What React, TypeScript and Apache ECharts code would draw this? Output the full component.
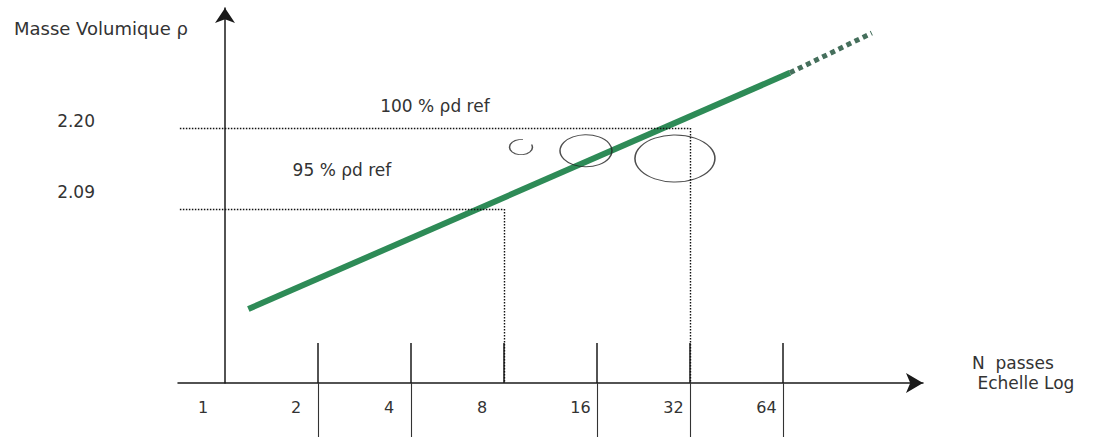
import React, { useEffect, useRef } from "react";
import * as echarts from "echarts";

// ---- data ----
const passTicks = [1, 2, 4, 8, 16, 32, 64]; // N passes, log2 scale
const refDensity = [2.2, 2.09]; // ρd values on the y axis
const refLabels = ["100 % ρd ref", "95 % ρd ref"];
const refPasses = [32, 8]; // N where the reference is reached
const trendN = [1.19, 67.4];
const trendRho = [1.954, 2.275];
const extN = [67.4, 124];
const extRho = [2.275, 2.329];
const markN = [9.08, 14.74, 28.6];
const markRho = [2.174, 2.169, 2.1586];

const X_MIN = -0.5054;
const X_MAX = 7.5054;
const Y_MIN = 1.85353;
const Y_MAX = 2.36304;
const FONT = "DejaVu Sans";
const TXT = "#333";

const lg = (n: number) => Math.log2(n);

const C_PATH =
  "path://M58.7 0.8L41.3 0.8L25 6.7L11.7 17.9L3 32.9L0 50L3 67.1L11.7 82.1L25 93.3L41.3 99.2L58.7 99.2L75 93.3L88.3 82.1L97 67.1L100 50L97 32.9";

export default function App() {
  const ref = useRef<HTMLDivElement>(null);
  useEffect(() => {
    if (!ref.current) return;
    const chart = echarts.init(ref.current, undefined, { renderer: "svg" });
    const lineStart = X_MIN + 0.02;
    const markSizes = [
      [23, 15],
      [52, 32],
      [80, 47],
    ];
    const markSymbols = [C_PATH, "circle", "circle"];
    const labelDist = [13, 30];
    const option: any = {
      animation: false,
      backgroundColor: "#fff",
      grid: { left: 178, right: 171, top: 8, bottom: 65 },
      xAxis: [
        {
          type: "value",
          position: "bottom",
          min: X_MIN,
          max: X_MAX,
          name: "N  passes\n Echelle Log\n ",
          nameLocation: "end",
          nameGap: 49,
          nameTextStyle: {
            fontFamily: FONT,
            fontSize: 17,
            color: TXT,
            align: "left",
            verticalAlign: "middle",
            lineHeight: 20,
          },
          axisLine: {
            show: true,
            onZero: false,
            symbol: ["none", "arrow"],
            symbolSize: [15, 17],
            lineStyle: { color: "#1a1a1a", width: 1.5 },
          },
          axisTick: {
            show: true,
            inside: false,
            length: 54,
            customValues: [1, 2, 4, 5, 6],
            lineStyle: { color: "#333", width: 1.1 },
          },
          axisLabel: {
            show: true,
            customValues: passTicks.map(lg),
            margin: 16,
            align: "center",
            formatter: (v: number) => {
              const s = String(Math.round(Math.pow(2, v)));
              return s.length === 1 ? `{s|${s}}` : `{d|${s}}`;
            },
            rich: {
              s: { fontFamily: FONT, fontSize: 16, color: TXT, padding: [0, 44, 0, 0] },
              d: { fontFamily: FONT, fontSize: 16, color: TXT, padding: [0, 33, 0, 0] },
            },
          },
          splitLine: { show: false },
        },
        {
          type: "value",
          position: "bottom",
          min: X_MIN,
          max: X_MAX,
          axisLine: { show: false, onZero: false },
          axisTick: {
            show: true,
            inside: true,
            length: 40,
            customValues: passTicks.slice(1).map(lg),
            lineStyle: { color: "#1a1a1a", width: 1.5 },
          },
          axisLabel: { show: false },
          splitLine: { show: false },
        },
      ],
      yAxis: {
        type: "value",
        min: Y_MIN,
        max: Y_MAX,
        name: "Masse Volumique ρ",
        nameLocation: "end",
        nameGap: -20,
        nameTextStyle: {
          fontFamily: FONT,
          fontSize: 18,
          color: TXT,
          align: "right",
          verticalAlign: "middle",
          padding: [0, 37, 0, 0],
        },
        axisLine: {
          show: true,
          onZero: true,
          symbol: ["none", "arrow"],
          symbolSize: [15, 15],
          lineStyle: { color: "#1a1a1a", width: 1.5 },
        },
        axisTick: { show: false },
        splitLine: { show: false },
        axisLabel: {
          show: true,
          customValues: refDensity,
          margin: 83,
          formatter: (v: number) =>
            v > 2.15 ? `{a|${v.toFixed(2)}}` : `{b|${v.toFixed(2)}}`,
          rich: {
            a: { fontFamily: FONT, fontSize: 17, color: TXT, padding: [0, 0, 14, 0] },
            b: { fontFamily: FONT, fontSize: 17, color: TXT, padding: [0, 0, 33, 0] },
          },
        },
      },
      series: [
        {
          name: "ref",
          type: "line",
          data: [],
          silent: true,
          markLine: {
            silent: true,
            symbol: ["none", "none"],
            animation: false,
            lineStyle: { type: [1.5, 1.5], color: "#111", width: 1.4 },
            data: refDensity.flatMap((d, i) => [
              [
                {
                  coord: [lineStart, d],
                  label: {
                    show: true,
                    formatter: refLabels[i],
                    position: "middle",
                    distance: labelDist[i],
                    fontFamily: FONT,
                    fontSize: 17,
                    color: TXT,
                  },
                },
                { coord: [lg(refPasses[i]), d] },
              ],
              [
                { coord: [lg(refPasses[i]), d], label: { show: false } },
                { coord: [lg(refPasses[i]), Y_MIN] },
              ],
            ]),
          },
        },
        {
          name: "trend",
          type: "line",
          symbol: "none",
          z: 3,
          lineStyle: { color: "#2e8b57", width: 6, cap: "butt" },
          data: trendN.map((n, i) => [lg(n), trendRho[i]]),
        },
        {
          name: "trendExt",
          type: "line",
          symbol: "none",
          z: 3,
          lineStyle: { color: "#456f5c", width: 5, type: [5, 4], cap: "butt" },
          data: extN.map((n, i) => [lg(n), extRho[i]]),
        },
        {
          name: "marks",
          type: "scatter",
          z: 4,
          itemStyle: { color: "rgba(0,0,0,0)", borderColor: "#222", borderWidth: 1.2 },
          data: markN.map((n, i) => ({
            value: [lg(n), markRho[i]],
            symbol: markSymbols[i],
            symbolSize: markSizes[i],
          })),
        },
      ],
    };
    chart.setOption(option);
    return () => chart.dispose();
  }, []);
  return (
    <div
      ref={ref}
      style={{ position: "fixed", left: 0, top: 0, width: 1094, height: 448, background: "#fff" }}
    />
  );
}
